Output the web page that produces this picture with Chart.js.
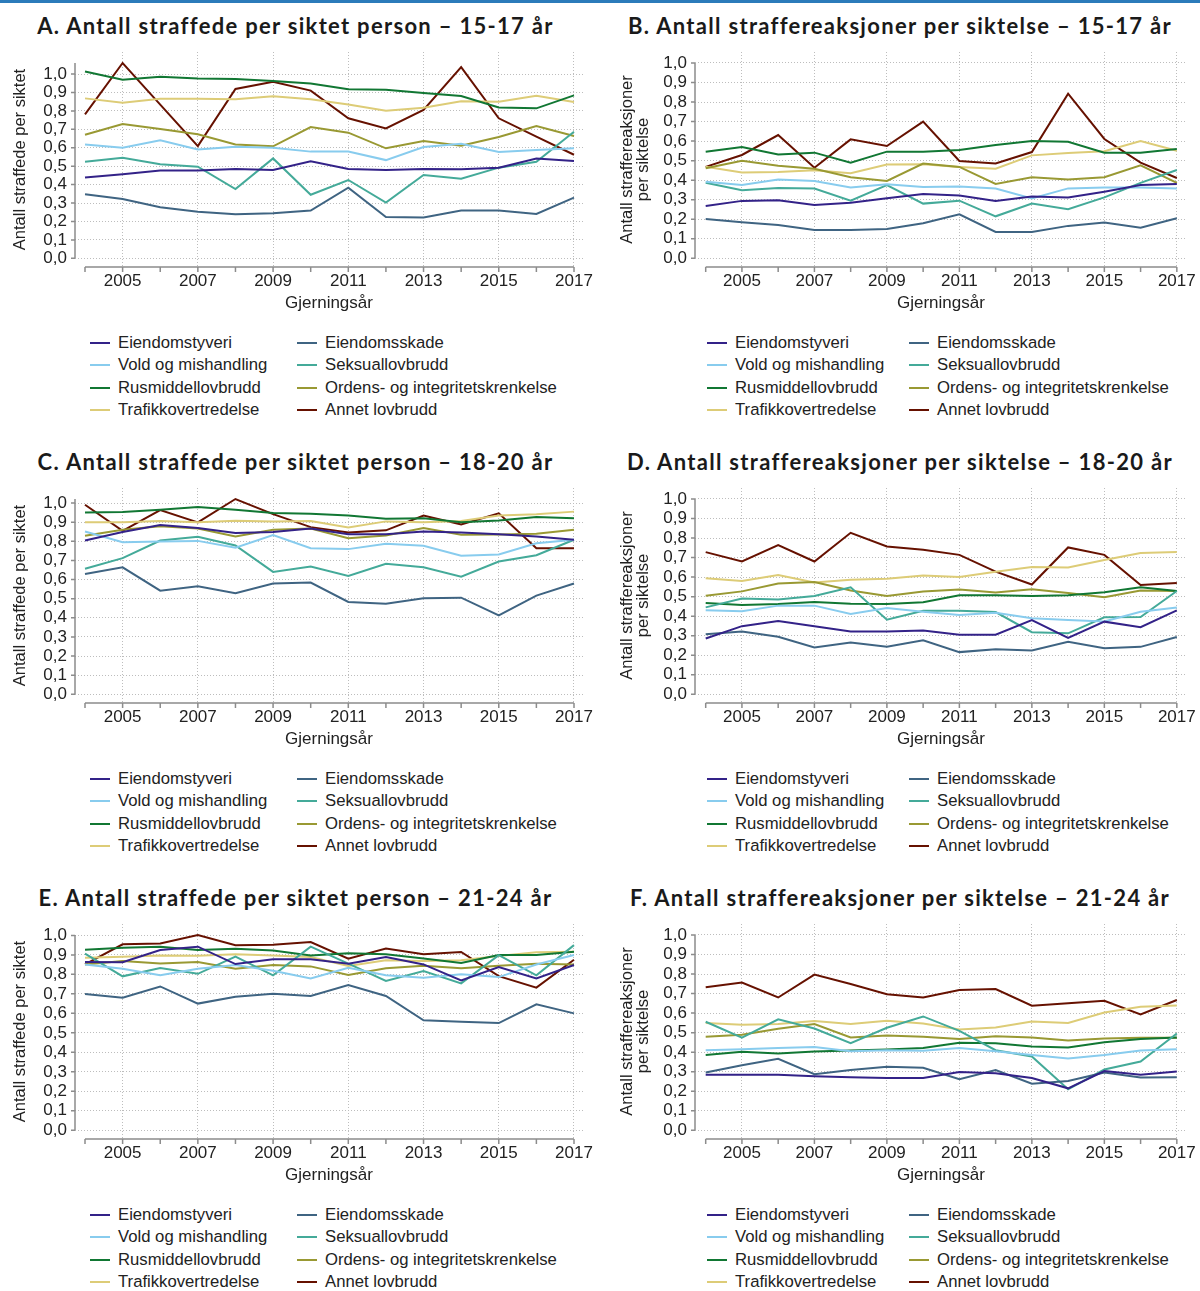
<!DOCTYPE html>
<html><head><meta charset="utf-8">
<script src="https://cdn.jsdelivr.net/npm/chart.js@4/dist/chart.umd.min.js"></script>
<style>
html,body{margin:0;padding:0;background:#fff;}
body{width:1200px;height:1291px;position:relative;overflow:hidden;font-family:"Liberation Sans",Arial,sans-serif;}
#topbar{position:absolute;left:0;top:0;width:1200px;height:3px;background:#2b7bba;}
.panel{position:absolute;width:600px;height:436px;}
.ptitle{position:absolute;top:13px;height:26px;line-height:26px;text-align:center;font-family:Lato,"DejaVu Sans",sans-serif;font-weight:700;font-size:22px;letter-spacing:1.3px;color:#1a1a1a;white-space:nowrap;}
.panel canvas{position:absolute;left:0;top:0;}
.li{position:absolute;white-space:nowrap;height:22px;line-height:22px;font-size:16.7px;color:#222;}
.li .sw{position:absolute;left:0;top:10px;width:20px;height:2px;}
.li .tx{position:absolute;left:28px;top:0;}
</style></head><body>
<div id="topbar"></div>
<script>
// ---------- data ----------
const years = [2004,2005,2006,2007,2008,2009,2010,2011,2012,2013,2014,2015,2016,2017];
const seriesNames = ['Eiendomstyveri','Eiendomsskade','Vold og mishandling','Seksuallovbrudd','Rusmiddellovbrudd','Ordens- og integritetskrenkelse','Trafikkovertredelse','Annet lovbrudd'];
const seriesColors = ['#332288','#3f6482','#88ccee','#44aa99','#117733','#999933','#ddcc77','#661100'];
const xTickYears = [2005,2007,2009,2011,2013,2015,2017];
const yTickValues = [0,0.1,0.2,0.3,0.4,0.5,0.6,0.7,0.8,0.9,1.0];

// A. Antall straffede per siktet person – 15-17 år (rows follow seriesNames)
const panelA = [
  [0.438,0.456,0.476,0.476,0.485,0.479,0.526,0.485,0.479,0.485,0.483,0.492,0.542,0.528],
  [0.347,0.322,0.277,0.253,0.239,0.244,0.259,0.383,0.224,0.221,0.259,0.259,0.241,0.329],
  [0.617,0.600,0.640,0.591,0.606,0.600,0.579,0.580,0.533,0.604,0.622,0.577,0.588,0.597],
  [0.524,0.546,0.510,0.497,0.376,0.542,0.345,0.425,0.302,0.452,0.432,0.492,0.524,0.687],
  [1.014,0.969,0.986,0.976,0.973,0.962,0.949,0.917,0.915,0.897,0.881,0.819,0.814,0.884],
  [0.671,0.729,0.702,0.673,0.618,0.608,0.712,0.682,0.597,0.637,0.611,0.658,0.718,0.664],
  [0.868,0.844,0.866,0.866,0.863,0.879,0.863,0.835,0.801,0.817,0.852,0.850,0.882,0.848],
  [0.781,1.060,0.834,0.609,0.919,0.958,0.910,0.760,0.705,0.805,1.038,0.760,0.660,0.562]
];
// B. Antall straffereaksjoner per siktelse – 15-17 år
const panelB = [
  [0.268,0.294,0.297,0.273,0.285,0.307,0.329,0.321,0.294,0.316,0.311,0.341,0.375,0.381],
  [0.201,0.184,0.171,0.145,0.145,0.150,0.179,0.225,0.135,0.135,0.166,0.183,0.157,0.205],
  [0.392,0.375,0.403,0.396,0.363,0.379,0.365,0.367,0.357,0.307,0.358,0.363,0.363,0.358],
  [0.387,0.348,0.360,0.357,0.295,0.375,0.280,0.295,0.215,0.280,0.251,0.312,0.386,0.452],
  [0.546,0.570,0.531,0.541,0.490,0.546,0.546,0.555,0.580,0.601,0.597,0.541,0.541,0.560],
  [0.461,0.500,0.474,0.459,0.415,0.396,0.485,0.468,0.381,0.415,0.403,0.415,0.476,0.386],
  [0.469,0.439,0.442,0.451,0.435,0.480,0.481,0.468,0.459,0.527,0.539,0.548,0.601,0.551],
  [0.468,0.529,0.631,0.464,0.609,0.575,0.700,0.498,0.486,0.544,0.843,0.611,0.490,0.411]
];
// C. Antall straffede per siktet person – 18-20 år
const panelC = [
  [0.804,0.848,0.885,0.869,0.843,0.848,0.867,0.837,0.837,0.851,0.846,0.837,0.825,0.808],
  [0.629,0.664,0.542,0.565,0.528,0.579,0.584,0.483,0.474,0.502,0.505,0.413,0.516,0.579],
  [0.851,0.795,0.799,0.802,0.766,0.832,0.764,0.759,0.787,0.776,0.724,0.731,0.790,0.808],
  [0.656,0.712,0.804,0.823,0.778,0.640,0.668,0.619,0.682,0.664,0.615,0.694,0.727,0.808],
  [0.951,0.953,0.965,0.979,0.965,0.948,0.944,0.935,0.918,0.920,0.899,0.909,0.927,0.920],
  [0.829,0.860,0.879,0.867,0.825,0.860,0.867,0.816,0.830,0.869,0.834,0.836,0.839,0.860],
  [0.900,0.900,0.906,0.900,0.907,0.904,0.906,0.872,0.904,0.900,0.906,0.935,0.941,0.955],
  [0.991,0.855,0.963,0.899,1.021,0.942,0.874,0.846,0.857,0.934,0.888,0.946,0.764,0.764]
];
// D. Antall straffereaksjoner per siktelse – 18-20 år
const panelD = [
  [0.286,0.349,0.375,0.349,0.322,0.322,0.327,0.305,0.305,0.380,0.289,0.372,0.344,0.430],
  [0.307,0.322,0.295,0.240,0.265,0.243,0.277,0.216,0.231,0.224,0.269,0.236,0.243,0.293],
  [0.430,0.425,0.454,0.454,0.411,0.442,0.423,0.406,0.418,0.389,0.380,0.373,0.423,0.445],
  [0.445,0.490,0.486,0.503,0.548,0.382,0.428,0.428,0.421,0.318,0.312,0.394,0.396,0.529],
  [0.467,0.457,0.462,0.473,0.464,0.462,0.471,0.507,0.507,0.503,0.507,0.522,0.548,0.529],
  [0.505,0.527,0.567,0.575,0.531,0.503,0.526,0.536,0.521,0.538,0.519,0.497,0.531,0.529],
  [0.594,0.580,0.611,0.572,0.587,0.592,0.608,0.601,0.628,0.652,0.649,0.688,0.723,0.728],
  [0.728,0.680,0.764,0.680,0.827,0.757,0.740,0.714,0.628,0.562,0.752,0.714,0.560,0.570]
];
// E. Antall straffede per siktet person – 21-24 år
const panelE = [
  [0.863,0.862,0.925,0.942,0.853,0.877,0.877,0.855,0.889,0.851,0.769,0.838,0.779,0.848],
  [0.699,0.680,0.738,0.650,0.685,0.701,0.689,0.745,0.689,0.564,0.557,0.550,0.646,0.600],
  [0.851,0.829,0.795,0.829,0.848,0.819,0.779,0.834,0.795,0.783,0.800,0.786,0.851,0.899],
  [0.906,0.790,0.832,0.803,0.891,0.795,0.942,0.855,0.766,0.817,0.754,0.899,0.795,0.950],
  [0.926,0.937,0.942,0.925,0.932,0.923,0.897,0.908,0.903,0.882,0.858,0.899,0.899,0.916],
  [0.851,0.868,0.856,0.863,0.829,0.848,0.841,0.797,0.831,0.844,0.831,0.844,0.855,0.851],
  [0.885,0.891,0.897,0.896,0.903,0.897,0.889,0.843,0.872,0.868,0.872,0.894,0.913,0.916],
  [0.851,0.954,0.959,1.002,0.949,0.952,0.966,0.880,0.933,0.903,0.915,0.791,0.732,0.875]
];
// F. Antall straffereaksjoner per siktelse – 21-24 år
const panelF = [
  [0.284,0.285,0.285,0.277,0.272,0.268,0.268,0.299,0.292,0.268,0.215,0.303,0.284,0.301],
  [0.296,0.333,0.366,0.287,0.309,0.326,0.320,0.262,0.308,0.239,0.253,0.296,0.270,0.272],
  [0.410,0.415,0.422,0.427,0.405,0.410,0.407,0.421,0.405,0.386,0.368,0.386,0.409,0.415],
  [0.556,0.474,0.568,0.521,0.446,0.525,0.583,0.509,0.410,0.378,0.210,0.311,0.352,0.496],
  [0.385,0.402,0.393,0.403,0.409,0.414,0.421,0.448,0.446,0.429,0.424,0.451,0.468,0.475],
  [0.479,0.489,0.520,0.544,0.475,0.485,0.479,0.467,0.482,0.475,0.460,0.470,0.474,0.474],
  [0.549,0.540,0.544,0.559,0.544,0.561,0.547,0.516,0.526,0.557,0.549,0.603,0.632,0.639],
  [0.732,0.757,0.680,0.797,0.749,0.697,0.680,0.718,0.723,0.638,0.651,0.663,0.593,0.667]
];

const titles = {
  A:'A. Antall straffede per siktet person – 15-17 år',
  B:'B. Antall straffereaksjoner per siktelse – 15-17 år',
  C:'C. Antall straffede per siktet person – 18-20 år',
  D:'D. Antall straffereaksjoner per siktelse – 18-20 år',
  E:'E. Antall straffede per siktet person – 21-24 år',
  F:'F. Antall straffereaksjoner per siktelse – 21-24 år'
};
const yTitlePerson = 'Antall straffede per siktet';
const yTitleReaksjon = ['Antall straffereaksjoner','per siktelse'];
const xTitle = 'Gjerningsår';

// ---------- layout ----------
const CANVAS_H = 320, TOP = 52, BOTTOM = 267, Y0 = 258.3, Y1 = 63;
const leftLayout  = {axisX:75, x0:85,    x1:574, right:583, titleCX:295.5, yTitle:yTitlePerson,   yPad:12, legendCols:[90,297]};
const rightLayout = {axisX:95, x0:105.7, x1:577, right:587, titleCX:300,   yTitle:yTitleReaksjon, yPad:19, legendCols:[107,309]};

const panels = [
  {key:'A', data:panelA, left:0,   top:0,   lay:leftLayout},
  {key:'B', data:panelB, left:600, top:0,   lay:rightLayout},
  {key:'C', data:panelC, left:0,   top:436, lay:leftLayout},
  {key:'D', data:panelD, left:600, top:436, lay:rightLayout},
  {key:'E', data:panelE, left:0,   top:872, lay:leftLayout},
  {key:'F', data:panelF, left:600, top:872, lay:rightLayout}
];

const axisColor = '#8c8c8c';
const textColor = '#222';
const gridColor = '#bdbdbd';
const fontFam = '"Liberation Sans", Arial, sans-serif';

const offsetAxes = {
  id:'offsetAxes',
  beforeDatasetsDraw(chart, args, opts){
    const {ctx, chartArea, scales:{x, y}} = chart;
    ctx.save();
    ctx.strokeStyle = axisColor;
    ctx.lineWidth = 1.5;
    ctx.beginPath();
    const ax = chartArea.left;
    ctx.moveTo(ax, y.getPixelForValue(0));
    ctx.lineTo(ax, y.getPixelForValue(opts.top));
    yTickValues.forEach(v => { const p = y.getPixelForValue(v); ctx.moveTo(ax-4, p); ctx.lineTo(ax, p); });
    const yb = chartArea.bottom;
    ctx.moveTo(x.getPixelForValue(years[0]), yb);
    ctx.lineTo(x.getPixelForValue(years[years.length-1]), yb);
    years.forEach(v => { const p = x.getPixelForValue(v); ctx.moveTo(p, yb); ctx.lineTo(p, yb+5); });
    ctx.stroke();
    ctx.restore();
  }
};

panels.forEach(p => {
  const lay = p.lay;
  const div = document.createElement('div');
  div.className = 'panel';
  div.style.left = p.left + 'px';
  div.style.top = p.top + 'px';
  document.body.appendChild(div);

  const t = document.createElement('div');
  t.className = 'ptitle';
  t.style.left = '0px';
  t.style.width = (2*lay.titleCX) + 'px';
  t.textContent = titles[p.key];
  div.appendChild(t);

  const cv = document.createElement('canvas');
  cv.width = 600; cv.height = CANVAS_H;
  cv.style.width = '600px'; cv.style.height = CANVAS_H + 'px';
  div.appendChild(cv);

  const dataMax = Math.max(1, ...p.data.flat());
  const k = (Y0 - Y1) / dataMax;
  const yMin = -(BOTTOM - Y0) / k;
  const yMax = dataMax + (Y1 - TOP) / k;
  const ppy = (lay.x1 - lay.x0) / (years.length - 1);
  const xMin = years[0] - (lay.x0 - lay.axisX) / ppy;
  const xMax = years[years.length-1] + (lay.right - lay.x1) / ppy;

  new Chart(cv, {
    type:'line',
    data:{
      datasets: seriesNames.map((n, i) => ({
        label:n,
        data: years.map((yr, j) => ({x:yr, y:p.data[i][j]})),
        borderColor: seriesColors[i],
        backgroundColor: seriesColors[i],
        borderWidth: 2,
        pointRadius: 0,
        tension: 0,
        fill: false
      }))
    },
    options:{
      responsive:false,
      animation:false,
      devicePixelRatio:1,
      layout:{padding:{left:0, top:TOP, right:600-lay.right, bottom:0}},
      plugins:{legend:{display:false}, tooltip:{enabled:false}, offsetAxes:{top:dataMax}},
      scales:{
        x:{
          type:'linear', min:xMin, max:xMax,
          afterBuildTicks: s => { s.ticks = years.map(v => ({value:v})); },
          afterFit: s => { s.height = CANVAS_H - BOTTOM; },
          ticks:{autoSkip:false, maxRotation:0, padding:4, color:textColor,
                 font:{family:fontFam, size:17},
                 callback: v => xTickYears.includes(v) ? String(v) : ''},
          grid:{drawTicks:false, lineWidth:1,
                color: c => (c.tick && xTickYears.includes(c.tick.value)) ? gridColor : 'rgba(0,0,0,0)'},
          border:{display:false, dash:[1,2]},
          title:{display:true, text:xTitle, color:textColor, padding:{top:0,bottom:6},
                 font:{family:fontFam, size:17}}
        },
        y:{
          type:'linear', min:yMin, max:yMax,
          afterBuildTicks: s => { s.ticks = yTickValues.map(v => ({value:v})); },
          afterFit: s => { s.width = lay.axisX; },
          ticks:{autoSkip:false, padding:8, color:textColor,
                 font:{family:fontFam, size:17},
                 callback: v => Number(v).toFixed(1).replace('.', ',')},
          grid:{drawTicks:false, lineWidth:1, color:gridColor},
          border:{display:false, dash:[1,2]},
          title:{display:true, text:lay.yTitle, color:textColor, padding:{top:lay.yPad,bottom:0},
                 font:{family:fontFam, size:16.5, lineHeight:1.0}}
        }
      }
    },
    plugins:[offsetAxes]
  });

  // legend (2 columns x 4 rows)
  const rowY = [343, 365.3, 387.7, 410];
  seriesNames.forEach((n, i) => {
    const li = document.createElement('div');
    li.className = 'li';
    li.style.left = lay.legendCols[i % 2] + 'px';
    li.style.top = (rowY[Math.floor(i/2)] - 11) + 'px';
    li.innerHTML = '<span class="sw" style="background:' + seriesColors[i] + '"></span><span class="tx"></span>';
    li.querySelector('.tx').textContent = n;
    div.appendChild(li);
  });
});
</script>
</body></html>
